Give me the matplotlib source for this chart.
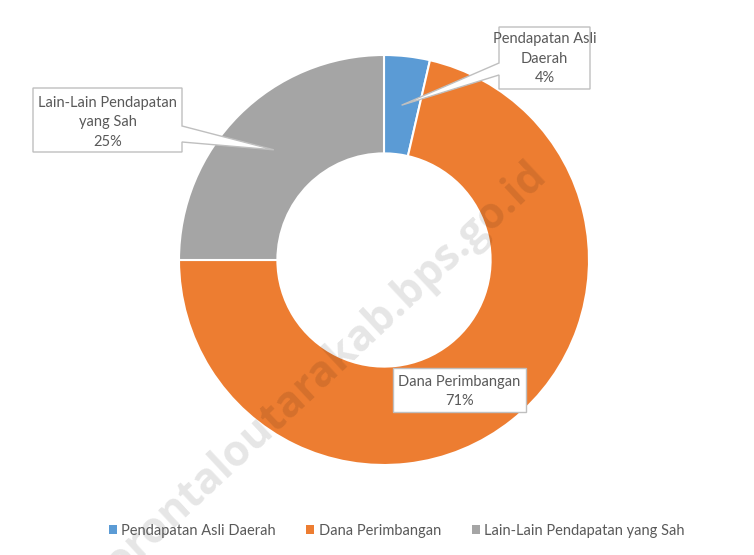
import numpy as np
import matplotlib
matplotlib.use("Agg")
import matplotlib.pyplot as plt
from matplotlib.patches import Polygon

plt.rcParams['font.family'] = ['Lato', 'DejaVu Sans']

# data
categories = ["Pendapatan Asli Daerah", "Dana Perimbangan", "Lain-Lain Pendapatan yang Sah"]
box_labels = ["Pendapatan Asli\nDaerah", "Dana Perimbangan", "Lain-Lain Pendapatan\nyang Sah"]
shares = [3.6, 71.4, 25.0]
colors = ["#5B9BD5", "#ED7D31", "#A5A5A5"]

W, H = 754, 555
cx, cy, R = 384, 260, 205   # pie centre / radius in pixels
ring = 0.48

fig = plt.figure(figsize=(W / 100, H / 100), dpi=100)
ax = fig.add_axes([(cx - R) / W, (H - cy - R) / H, 2 * R / W, 2 * R / H])
wedges, _ = ax.pie(shares, colors=colors, startangle=90, counterclock=False,
                   radius=1, wedgeprops=dict(width=ring, edgecolor="white", linewidth=1.5))
ax.set_xlim(-1, 1)
ax.set_ylim(-1, 1)
ax.axis("off")

# overlay in pixel coordinates for callouts
ov = fig.add_axes([0, 0, 1, 1], facecolor="none")
ov.set_xlim(0, W)
ov.set_ylim(H, 0)
ov.axis("off")

# watermark
ov.text(318, 378, "gorontaloutarakab.bps.go.id", rotation=43, ha="center", va="center",
        fontsize=31, fontweight="bold", color="black", alpha=0.1,
        family=["Open Sans", "DejaVu Sans"], zorder=5)


def mid_point(i):
    # middle of the ring, at the wedge's middle angle
    w = wedges[i]
    a = np.radians((w.theta1 + w.theta2) / 2)
    r = R * (1 - ring / 2)
    return cx + r * np.cos(a), cy - r * np.sin(a)


def callout(x0, y0, x1, y1, tip=None, side=None, base=None):
    pts = [(x0, y0), (x1, y0)]
    if side == "right":
        pts += [(x1, base[0]), tip, (x1, base[1])]
    pts += [(x1, y1), (x0, y1)]
    if side == "left":
        pts += [(x0, base[1]), tip, (x0, base[0])]
    ov.add_patch(Polygon(pts, closed=True, facecolor="white", edgecolor="#BFBFBF",
                         linewidth=1, zorder=6))


txt = dict(ha="center", va="center", color="#595959", fontsize=10.5, linespacing=1.5, zorder=7)

# Pendapatan Asli Daerah
callout(499, 27, 590, 89, tip=mid_point(0), side="left", base=(63, 75))
ov.text(544.5, 59, f"{box_labels[0]}\n{shares[0]:.0f}%", **txt)

# Lain-Lain Pendapatan yang Sah
callout(33, 88, 182, 152, tip=mid_point(2), side="right", base=(126, 142))
ov.text(107.5, 122, f"{box_labels[2]}\n{shares[2]:.0f}%", **txt)

# Dana Perimbangan
callout(393, 368, 526, 412)
ov.text(459.5, 391.5, f"{box_labels[1]}\n{shares[1]:.0f}%", **txt)

leg = fig.legend(wedges, categories, loc="center", bbox_to_anchor=(396.5 / W, 1 - 531 / H),
                 ncol=3, frameon=False, fontsize=10.5, handlelength=0.55, handleheight=0.55,
                 handletextpad=0.3, columnspacing=2.1, labelcolor="#595959")
for h in leg.legend_handles:
    h.set_edgecolor("none")

fig.savefig("out.png", dpi=100)
